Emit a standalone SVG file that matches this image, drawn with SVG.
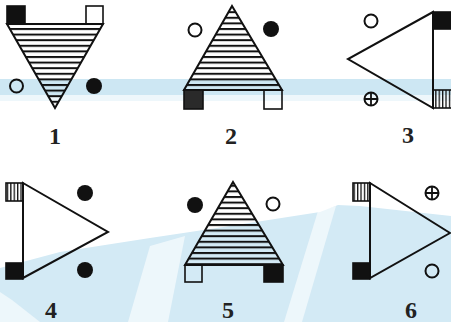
<svg xmlns="http://www.w3.org/2000/svg" width="451" height="322" viewBox="0 0 451 322">
<defs>
<pattern id="hh" patternUnits="userSpaceOnUse" width="10" height="5.6"><rect x="0" y="0" width="10" height="2" fill="#111"/></pattern>
<pattern id="vh" patternUnits="userSpaceOnUse" width="3.4" height="10"><rect x="0" y="0" width="1.3" height="10" fill="#111"/></pattern>
<style>
.tri{stroke:#111;stroke-width:2;stroke-linejoin:miter}
.hatch{fill:url(#hh)}
.open{fill:none}
.sq{stroke:#111;stroke-width:1.6}
.blk{fill:#111}
.wht{fill:none}
.vs{fill:url(#vh)}
.oc{fill:none;stroke:#111;stroke-width:2}
.fc{fill:#111}
.lbl{font-family:"Liberation Serif","Times New Roman",serif;font-weight:bold;font-size:24px;fill:#222;text-anchor:middle}
</style>
</defs>
<g id="background">
<rect x="0" y="0" width="451" height="322" fill="#fff"/>
<rect x="0" y="79" width="451" height="16" fill="#cde7f3"/>
<rect x="0" y="95" width="451" height="6" fill="#eef7fb"/>
<path d="M0,268 L60,252 L150,238 L230,226 L320,212 L338,205 L360,206 L451,216 L451,322 L0,322 Z" fill="#d3eaf5"/>
<path d="M150,246 L185,236 L168,322 L128,322 Z" fill="#fff" opacity="0.6"/>
<path d="M318,211 L336,206 L302,322 L284,322 Z" fill="#fff" opacity="0.6"/>
<path d="M0,292 L12,300 L40,322 L0,322 Z" fill="#fff" opacity="0.6"/>
</g>
<g id="fig1">
<polygon class="tri hatch" points="7,24 103,24 55,108"/>
<rect class="sq blk" x="7" y="6" width="18" height="18"/>
<rect class="sq wht" x="86" y="6" width="17" height="18"/>
<circle class="oc" cx="16.5" cy="86" r="6.5"/>
<circle class="fc" cx="94" cy="86" r="8"/>
<text class="lbl" x="55" y="144">1</text>
</g>
<g id="fig2">
<polygon class="tri hatch" points="232,6 282,90 184,90"/>
<rect class="sq" fill="#2a2a2a" x="184" y="90" width="19" height="19"/>
<rect class="sq wht" x="264" y="90" width="18" height="19"/>
<circle class="oc" cx="195" cy="30" r="6.5"/>
<circle class="fc" cx="271" cy="29" r="8"/>
<text class="lbl" x="231" y="144">2</text>
</g>
<g id="fig3">
<polygon class="tri open" points="433,12 348,59 433,108"/>
<rect class="sq blk" x="433" y="12" width="19" height="17"/>
<rect class="sq vs" x="433" y="90" width="19" height="18"/>
<circle class="oc" cx="371" cy="21" r="6.5"/>
<circle class="oc" cx="371" cy="99" r="6.5"/>
<path d="M364.5,99 H377.5 M371,92.5 V105.5" stroke="#111" stroke-width="1.8"/>
<text class="lbl" x="408" y="143">3</text>
</g>
<g id="fig4">
<polygon class="tri open" points="23,183 108,232 23,278"/>
<rect class="sq vs" x="6" y="183" width="17" height="18"/>
<rect class="sq blk" x="6" y="263" width="17" height="16"/>
<circle class="fc" cx="85" cy="193" r="8"/>
<circle class="fc" cx="85" cy="270" r="8"/>
<text class="lbl" x="51" y="318">4</text>
</g>
<g id="fig5">
<polygon class="tri hatch" points="233,182 283,265 185,265"/>
<rect class="sq wht" x="185" y="265" width="17" height="17"/>
<rect class="sq blk" x="264" y="265" width="19" height="17"/>
<circle class="fc" cx="195" cy="205" r="8"/>
<circle class="oc" cx="273" cy="204" r="6.5"/>
<text class="lbl" x="228" y="318">5</text>
</g>
<g id="fig6">
<polygon class="tri open" points="370,183 450,233 370,278"/>
<rect class="sq vs" x="353" y="183" width="17" height="18"/>
<rect class="sq blk" x="353" y="263" width="17" height="16"/>
<circle class="oc" cx="432" cy="193" r="6.5"/>
<path d="M425.5,193 H438.5 M432,186.5 V199.5" stroke="#111" stroke-width="1.8"/>
<circle class="oc" cx="432" cy="271" r="6.5"/>
<text class="lbl" x="411" y="318">6</text>
</g>
</svg>
